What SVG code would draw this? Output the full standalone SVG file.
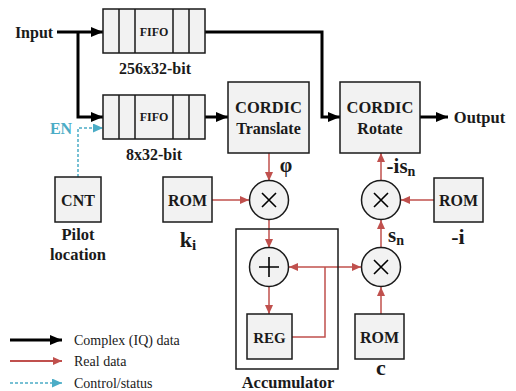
<svg xmlns="http://www.w3.org/2000/svg" width="516" height="391" viewBox="0 0 516 391" font-family="'Liberation Serif', 'Times New Roman', serif">
<style>
.box{fill:#f2f2f2;stroke:#1a1a1a;stroke-width:1.5}
.acc{fill:none;stroke:#1a1a1a;stroke-width:1.5}
.t{font-weight:bold;fill:#1a1a1a;text-anchor:middle}
.lg{fill:#1a1a1a;font-size:14px}
.blk{fill:none;stroke:#000;stroke-width:3}
.red{fill:none;stroke:#c0504d;stroke-width:1.5}
.blu{fill:none;stroke:#4bacc6;stroke-width:1.5;stroke-dasharray:3,2}
.op{stroke:#000;stroke-width:1.6;fill:none}
</style>
<defs>
<marker id="ab" markerWidth="12" markerHeight="10" refX="12" refY="5" orient="auto" markerUnits="userSpaceOnUse"><path d="M0,0L12,5L0,10z" fill="#000"/></marker>
<marker id="ar" markerWidth="9" markerHeight="8" refX="9" refY="4" orient="auto" markerUnits="userSpaceOnUse"><path d="M0,0L9,4L0,8z" fill="#c0504d"/></marker>
<marker id="ac" markerWidth="10" markerHeight="9" refX="10" refY="4.5" orient="auto" markerUnits="userSpaceOnUse"><path d="M0,0L10,4.5L0,9z" fill="#4bacc6"/></marker>
</defs>

<g id="connectors">
<path class="blk" d="M57,32H103" marker-end="url(#ab)"/>
<path class="blk" d="M78,32V117H103" marker-end="url(#ab)"/>
<path class="blk" d="M205,32H322V117H340" marker-end="url(#ab)"/>
<path class="blk" d="M205,117H228" marker-end="url(#ab)"/>
<path class="blk" d="M420,117H448" marker-end="url(#ab)"/>
<path class="blu" d="M78,177V128H103" marker-end="url(#ac)"/>
<path class="red" d="M269,153V181" marker-end="url(#ar)"/>
<path class="red" d="M212,200H249" marker-end="url(#ar)"/>
<path class="red" d="M269,220V248" marker-end="url(#ar)"/>
<path class="red" d="M269,287V314" marker-end="url(#ar)"/>
<path class="red" d="M292,337H325V267"/>
<path class="red" d="M325,267H289" marker-end="url(#ar)"/>
<path class="red" d="M325,267H361" marker-end="url(#ar)"/>
<path class="red" d="M381,314V287" marker-end="url(#ar)"/>
<path class="red" d="M381,247V220" marker-end="url(#ar)"/>
<path class="red" d="M381,180V153" marker-end="url(#ar)"/>
<path class="red" d="M434,200H401" marker-end="url(#ar)"/>
</g>

<g id="input"><text class="t" x="34" y="37.5" font-size="16">Input</text></g>
<g id="output"><text class="t" x="479.5" y="122.5" font-size="16.5">Output</text></g>

<g id="fifo1">
<rect class="box" x="103" y="9" width="102" height="44"/>
<path class="acc" d="M119,9V53M135,9V53M173,9V53M189,9V53"/>
<text class="t" x="154" y="36" font-size="12">FIFO</text>
<text class="t" x="155" y="73.5" font-size="16">256x32-bit</text>
</g>

<g id="fifo2">
<rect class="box" x="103" y="95" width="102" height="44"/>
<path class="acc" d="M119,95V139M135,95V139M173,95V139M189,95V139"/>
<text class="t" x="154" y="121" font-size="12">FIFO</text>
<text class="t" x="154" y="160" font-size="16">8x32-bit</text>
</g>

<g id="en"><text class="t" x="61" y="133.5" font-size="16" style="fill:#4bacc6">EN</text></g>

<g id="translate">
<rect class="box" x="228" y="82" width="81" height="71"/>
<text class="t" x="268.5" y="112.5" font-size="16.5">CORDIC</text>
<text class="t" x="268.5" y="133.5" font-size="16">Translate</text>
</g>

<g id="rotate">
<rect class="box" x="340" y="82" width="80" height="71"/>
<text class="t" x="380" y="112.5" font-size="16.5">CORDIC</text>
<text class="t" x="380" y="133.5" font-size="16">Rotate</text>
</g>

<g id="cnt">
<rect class="box" x="55" y="177" width="46" height="45"/>
<text class="t" x="78" y="205.5" font-size="16">CNT</text>
<text class="t" x="78" y="240" font-size="16.5">Pilot</text>
<text class="t" x="78" y="260" font-size="16.5">location</text>
</g>

<g id="rom-k">
<rect class="box" x="163" y="177" width="49" height="45"/>
<text class="t" x="187.5" y="205.5" font-size="16">ROM</text>
<text class="t" x="188" y="247" font-size="22">k<tspan font-size="15" dy="3">i</tspan></text>
</g>

<g id="mult1">
<circle class="box" cx="269" cy="200" r="19.5"/>
<path class="op" d="M262,193L276,207M276,193L262,207"/>
<text class="t" x="286" y="172" font-size="20">φ</text>
</g>

<g id="accumulator">
<rect class="acc" x="236" y="229" width="102" height="140"/>
<text class="t" x="288" y="387.5" font-size="16.5">Accumulator</text>
</g>

<g id="adder">
<circle class="box" cx="269" cy="267" r="19.5"/>
<path class="op" d="M269,257V277M259,267H279"/>
</g>

<g id="reg">
<rect class="box" x="247" y="314" width="45" height="45"/>
<text class="t" x="269.5" y="342.5" font-size="15">REG</text>
</g>

<g id="mult2">
<circle class="box" cx="381" cy="200" r="19.5"/>
<path class="op" d="M374,193L388,207M388,193L374,207"/>
<text class="t" x="401" y="173" font-size="21">-is<tspan font-size="14" dy="3">n</tspan></text>
</g>

<g id="rom-i">
<rect class="box" x="434" y="178" width="49" height="44"/>
<text class="t" x="458.5" y="205.5" font-size="16">ROM</text>
<text class="t" x="458" y="244" font-size="22">-i</text>
</g>

<g id="mult3">
<circle class="box" cx="381" cy="267" r="19.5"/>
<path class="op" d="M374,260L388,274M388,260L374,274"/>
<text class="t" x="396" y="242" font-size="21">s<tspan font-size="14" dy="3">n</tspan></text>
</g>

<g id="rom-c">
<rect class="box" x="355" y="314" width="49" height="45"/>
<text class="t" x="379.5" y="342.5" font-size="16">ROM</text>
<text class="t" x="381" y="375" font-size="22">c</text>
</g>

<g id="legend">
<path class="blk" d="M10,340H62" marker-end="url(#ab)"/>
<text class="lg" x="74" y="345">Complex (IQ) data</text>
<path class="red" d="M10,361H62" marker-end="url(#ar)" style="stroke-width:2"/>
<text class="lg" x="74" y="366">Real data</text>
<path class="blu" d="M10,383H62" marker-end="url(#ac)"/>
<text class="lg" x="74" y="388">Control/status</text>
</g>
</svg>
